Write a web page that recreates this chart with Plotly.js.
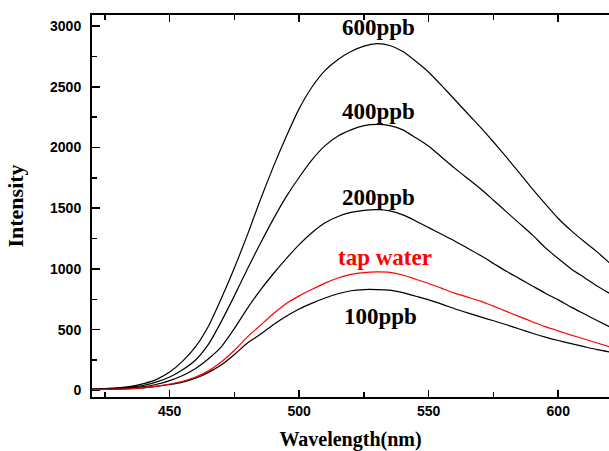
<!DOCTYPE html>
<html>
<head>
<meta charset="utf-8">
<script src="https://cdn.plot.ly/plotly-3.0.1.min.js"></script>
<style>html,body{margin:0;padding:0;background:#fff;}#chart{width:609px;height:451px;}</style>
</head>
<body>
<div id="chart"></div>
<script>
const wavelength = [420,425,430,435,440,445,450,455,460,465,470,475,480,485,490,495,500,505,510,515,520,525,530,535,540,545,550,555,560,565,570,575,580,585,590,595,600,605,610,615,620];
const ppb600 = [10,15,20,32,55,90,150,240,360,530,760,1010,1280,1570,1840,2090,2320,2500,2635,2725,2790,2835,2855,2840,2790,2710,2620,2510,2395,2280,2165,2045,1920,1790,1660,1535,1415,1315,1225,1140,1045];
const ppb400 = [10,13,18,27,42,70,110,170,250,380,570,780,1000,1210,1410,1595,1755,1900,2015,2095,2145,2180,2190,2180,2145,2080,2010,1920,1830,1745,1660,1565,1470,1375,1280,1175,1085,1000,930,860,796];
const ppb200 = [8,10,14,20,30,50,80,122,180,260,360,510,675,825,960,1085,1200,1300,1380,1432,1465,1482,1488,1478,1445,1395,1340,1285,1230,1170,1110,1045,980,920,860,800,745,685,630,575,521];
const tapWater = [5,8,10,13,22,35,52,75,110,160,235,330,440,535,630,715,778,832,883,925,955,970,975,972,950,915,880,840,800,768,735,693,650,607,565,525,490,455,423,390,357];
const ppb100 = [5,8,10,13,20,32,48,68,100,148,210,295,390,462,540,610,670,718,760,795,820,830,830,825,805,775,745,710,672,638,605,573,540,505,470,438,410,385,360,335,316];

const labels = [
  {text:'600ppb', x:530.8, y:2985, color:'#000000'},
  {text:'400ppb', x:530.8, y:2300, color:'#000000'},
  {text:'200ppb', x:530.8, y:1590, color:'#000000'},
  {text:'tap water', x:533.0, y:1095, color:'#ff0000'},
  {text:'100ppb', x:531.4, y:610, color:'#000000'}
];

const series = [
  {y: ppb600, color:'#000000'},
  {y: ppb400, color:'#000000'},
  {y: ppb200, color:'#000000'},
  {y: ppb100, color:'#000000'},
  {y: tapWater, color:'#ff0000'}
];

const traces = series.map(s => ({
  x: wavelength, y: s.y, type:'scatter', mode:'lines',
  line:{color:s.color, width:1.2, shape:'spline', smoothing:0.6},
  hoverinfo:'skip', showlegend:false
}));

const tickFont = {family:'Liberation Sans, Arial, sans-serif', size:14, color:'#000', weight:'bold'};
const serif = 'Liberation Serif, Times New Roman, serif';

const layout = {
  width:609, height:451,
  margin:{l:92, r:0, t:15, b:54, pad:0},
  paper_bgcolor:'#fff', plot_bgcolor:'#fff',
  showlegend:false,
  xaxis:{
    range:[420, 619.6], showgrid:false, zeroline:false,
    showline:true, linecolor:'#000', linewidth:2, mirror:'allticks',
    ticks:'inside', ticklen:7, tickwidth:1.5, tickcolor:'#000',
    tickvals:[450,500,550,600], ticktext:['450','500','550','600'],
    minor:{tickvals:[425,475,525,575], ticks:'inside', ticklen:5, tickwidth:1.5, tickcolor:'#000'},
    tickfont:tickFont,
    title:{text:'Wavelength(nm)', font:{family:serif, size:20, color:'#000', weight:'bold'}, standoff:25}
  },
  yaxis:{
    range:[-55, 3091], showgrid:false, zeroline:false,
    showline:true, linecolor:'#000', linewidth:2, mirror:false,
    ticks:'inside', ticklen:8, tickwidth:1.5, tickcolor:'#000',
    tickvals:[0,500,1000,1500,2000,2500,3000],
    ticktext:['0','500','1000','1500','2000','2500','3000'],
    minor:{tickvals:[250,750,1250,1750,2250,2750], ticks:'inside', ticklen:5, tickwidth:1.5, tickcolor:'#000'},
    tickfont:tickFont, ticklabelstandoff:6,
    title:{text:'Intensity', font:{family:serif, size:22, color:'#000', weight:'bold'}, standoff:20}
  },
  annotations: labels.map(a => ({
    text:a.text, x:a.x, y:a.y, xref:'x', yref:'y', showarrow:false,
    xanchor:'center', yanchor:'middle',
    font:{family:serif, size:23, color:a.color, weight:'bold'}
  }))
};

Plotly.newPlot('chart', traces, layout, {staticPlot:true, displayModeBar:false});
</script>
</body>
</html>
